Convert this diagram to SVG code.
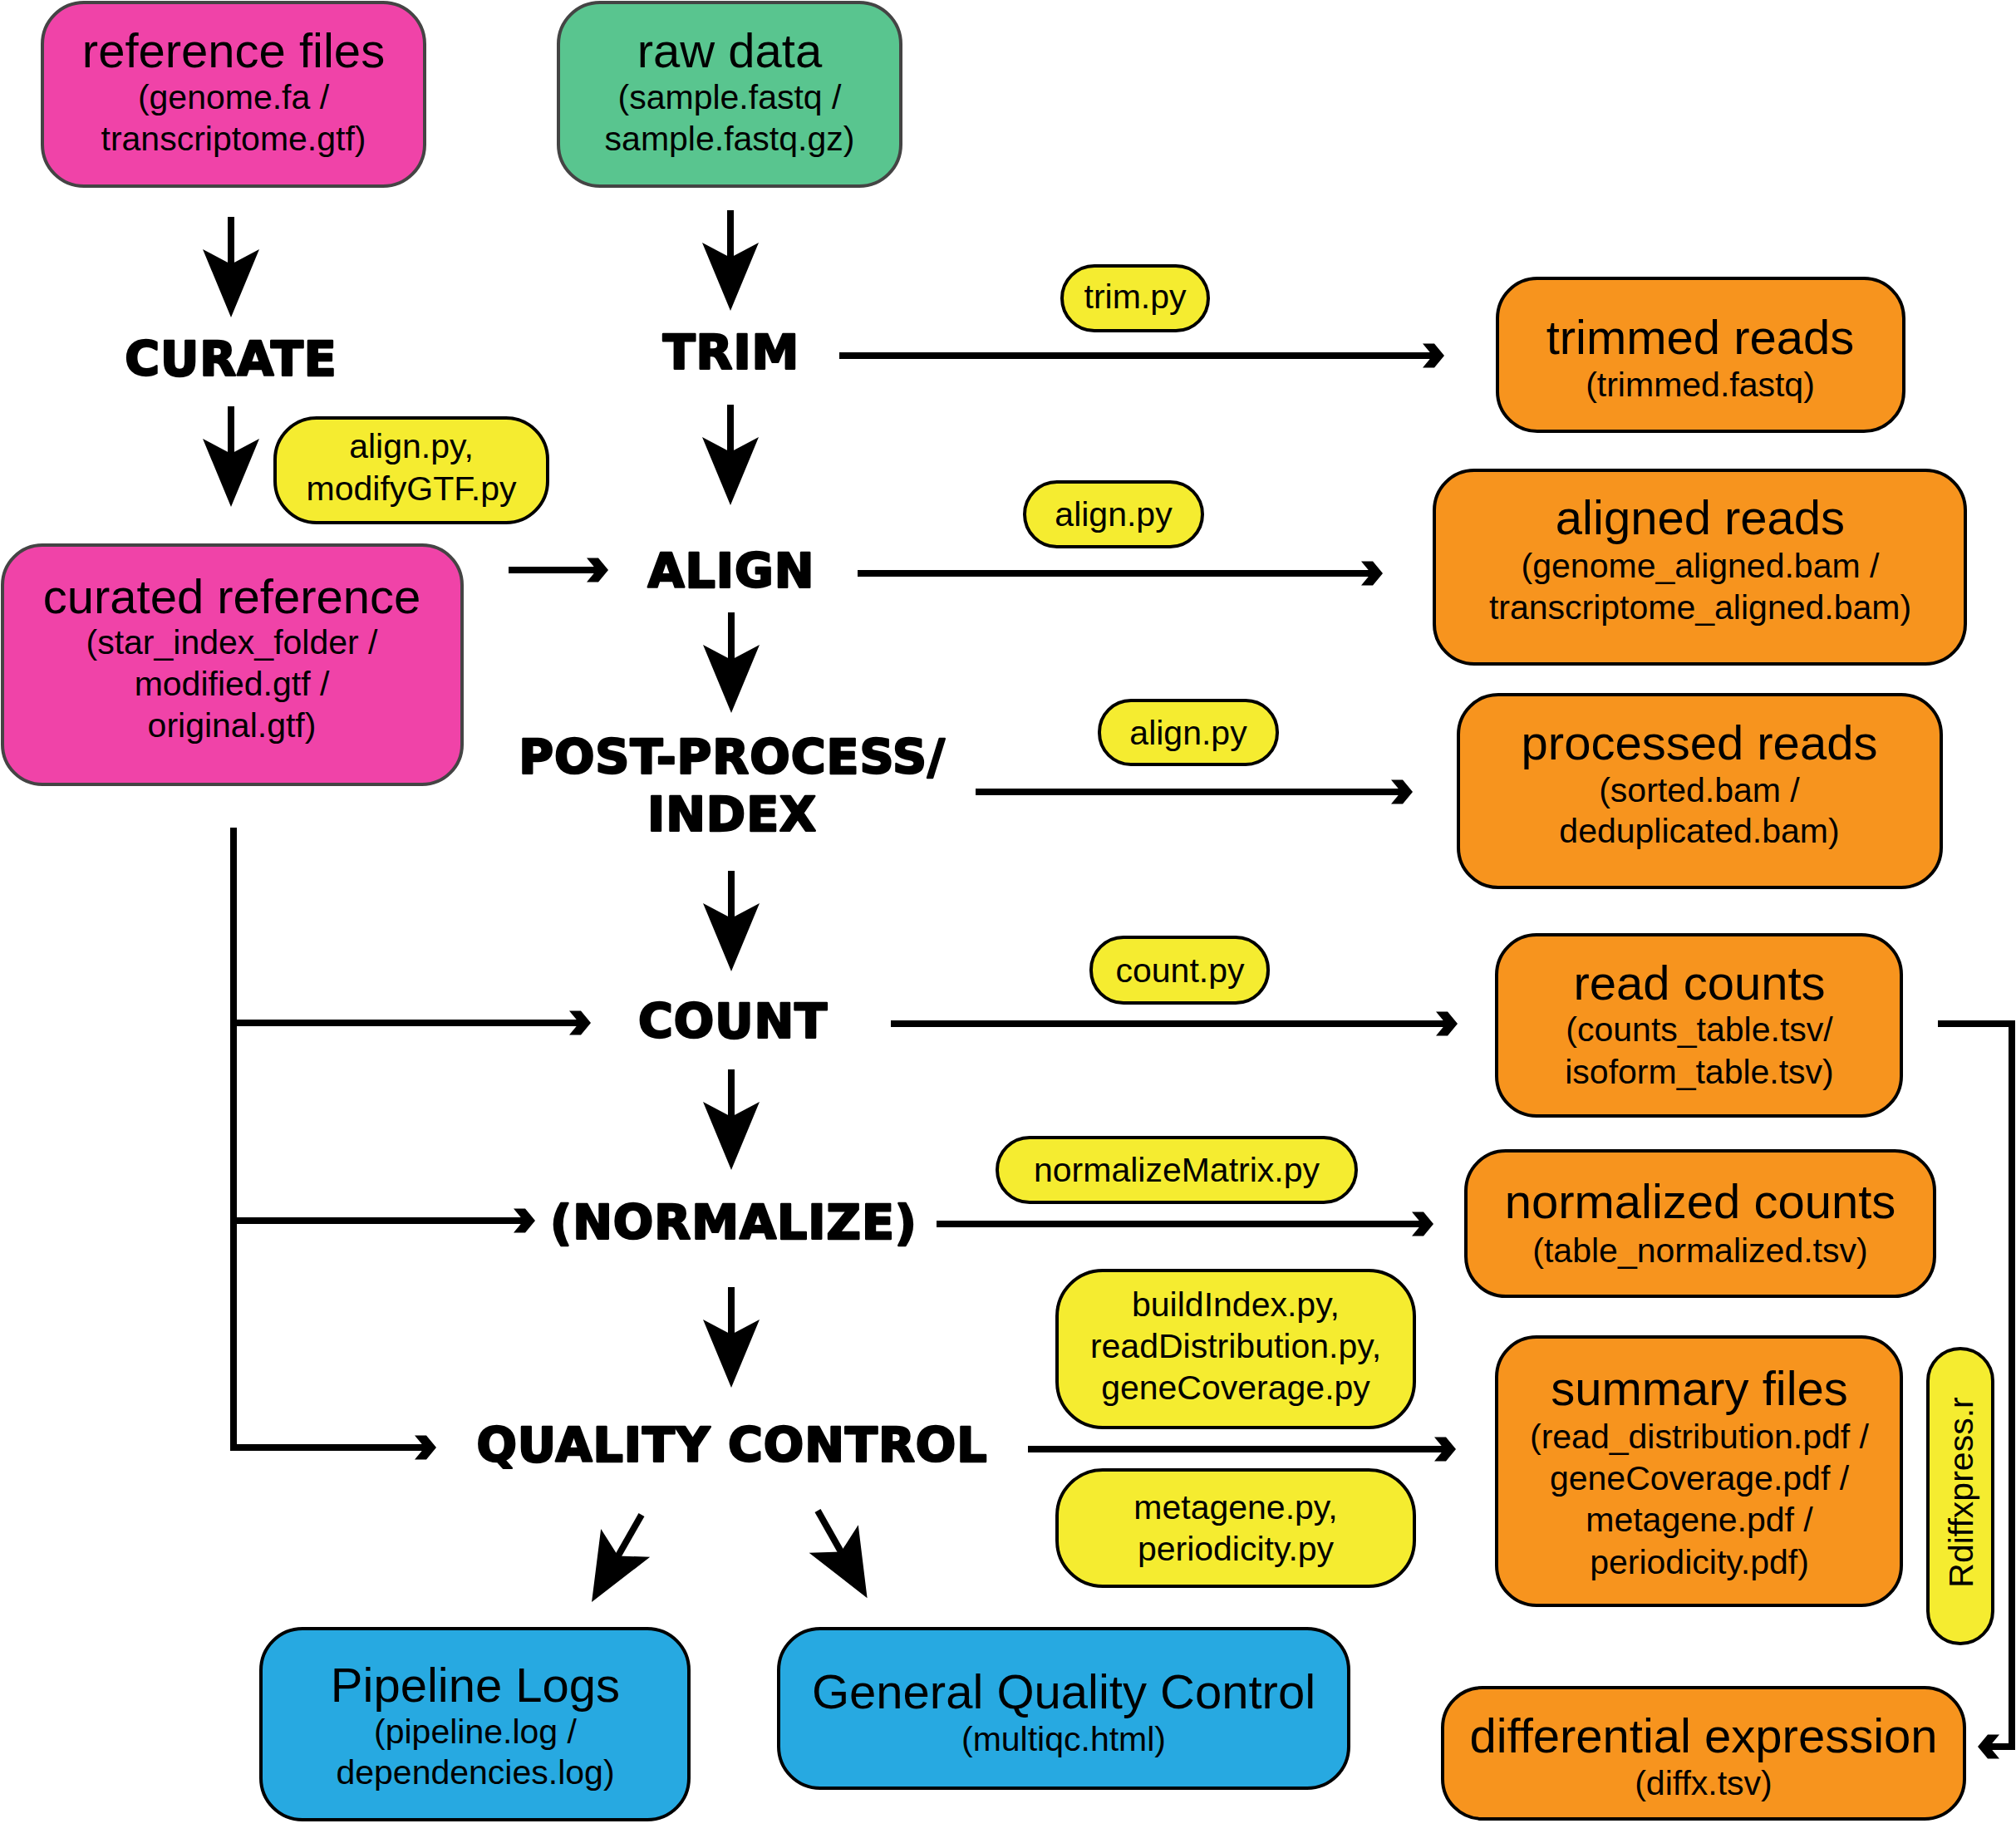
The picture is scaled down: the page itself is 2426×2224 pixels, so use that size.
<svg xmlns="http://www.w3.org/2000/svg" xmlns:xlink="http://www.w3.org/1999/xlink" width="2426" height="2224" viewBox="0 0 2426 2224">
<style>
text{font-family:"Liberation Sans",Arial,"Noto Sans",sans-serif;fill:#000;text-anchor:middle}
.t{font-size:58px}
.s{font-size:41px}
.step{font-family:"DejaVu Sans","Liberation Sans",sans-serif;font-weight:bold;font-size:57px;letter-spacing:1px;stroke:#000;stroke-width:2.5px;stroke-linejoin:round}
.pink{fill:#F043A8;stroke:#444;stroke-width:4}
.green{fill:#59C58F;stroke:#444;stroke-width:4}
.orange{fill:#F7941E;stroke:#000;stroke-width:4}
.blue{fill:#27A9E1;stroke:#000;stroke-width:4}
.yellow{fill:#F5EC30;stroke:#000;stroke-width:4}
.ln{fill:none;stroke:#000;stroke-width:8}
</style>
<defs>
<g id="darr"><rect x="-4" y="0" width="8" height="60" fill="#000"/><polygon points="-34,39 0,57 34,39 0,121" fill="#000"/></g>
<polygon id="chev" points="-26,-14.5 -12,-14.5 0,0 -12,14.5 -26,14.5 -14,0" fill="#000"/>
</defs>
<rect width="2426" height="2224" fill="#fff"/>

<g id="connectors">
<use xlink:href="#darr" href="#darr" transform="translate(278,261)"/>
<use xlink:href="#darr" href="#darr" transform="translate(278,489)"/>
<use xlink:href="#darr" href="#darr" transform="translate(879,253)"/>
<use xlink:href="#darr" href="#darr" transform="translate(879,487)"/>
<use xlink:href="#darr" href="#darr" transform="translate(880,737)"/>
<use xlink:href="#darr" href="#darr" transform="translate(880,1048)"/>
<use xlink:href="#darr" href="#darr" transform="translate(880,1287)"/>
<use xlink:href="#darr" href="#darr" transform="translate(880,1549)"/>
<use xlink:href="#darr" href="#darr" transform="translate(772,1823) rotate(29.7)"/>
<use xlink:href="#darr" href="#darr" transform="translate(984,1818) rotate(-29.5)"/>

<path class="ln" d="M1010,428 H1724"/><use xlink:href="#chev" href="#chev" transform="translate(1738,428)"/>
<path class="ln" d="M612,686 H718"/><use xlink:href="#chev" href="#chev" transform="translate(732,686)"/>
<path class="ln" d="M1032,690 H1650"/><use xlink:href="#chev" href="#chev" transform="translate(1664,690)"/>
<path class="ln" d="M1174,953 H1686"/><use xlink:href="#chev" href="#chev" transform="translate(1700,953)"/>
<path class="ln" d="M1072,1232 H1740"/><use xlink:href="#chev" href="#chev" transform="translate(1754,1232)"/>
<path class="ln" d="M1127,1473 H1711"/><use xlink:href="#chev" href="#chev" transform="translate(1725,1473)"/>
<path class="ln" d="M1237,1744 H1738"/><use xlink:href="#chev" href="#chev" transform="translate(1752,1744)"/>

<path class="ln" d="M281,996 V1742 H511"/><use xlink:href="#chev" href="#chev" transform="translate(525,1742)"/>
<path class="ln" d="M281,1231 H697"/><use xlink:href="#chev" href="#chev" transform="translate(711,1231)"/>
<path class="ln" d="M281,1469 H630"/><use xlink:href="#chev" href="#chev" transform="translate(644,1469)"/>

<path class="ln" d="M2332,1232 H2421 V2102 H2394"/><use xlink:href="#chev" href="#chev" transform="translate(2380,2102) scale(-1,1)"/>
</g>

<g id="ref_files">
<rect class="pink" x="51" y="3" width="460" height="221" rx="50"/>
<text class="t" x="281" y="81">reference files</text>
<text class="s" x="281" y="131">(genome.fa /</text>
<text class="s" x="281" y="181">transcriptome.gtf)</text>
</g>
<g id="raw_data">
<rect class="green" x="672" y="3" width="412" height="221" rx="50"/>
<text class="t" x="878" y="81">raw data</text>
<text class="s" x="878" y="131">(sample.fastq /</text>
<text class="s" x="878" y="181">sample.fastq.gz)</text>
</g>
<g id="curated_ref">
<rect class="pink" x="3" y="656" width="553" height="288" rx="48"/>
<text class="t" x="279" y="738">curated reference</text>
<text class="s" x="279" y="787">(star_index_folder /</text>
<text class="s" x="279" y="837">modified.gtf /</text>
<text class="s" x="279" y="887">original.gtf)</text>
</g>

<g id="step_curate"><text class="step" x="278" y="452">CURATE</text></g>
<g id="step_trim"><text class="step" x="880" y="444">TRIM</text></g>
<g id="step_align"><text class="step" x="880" y="707">ALIGN</text></g>
<g id="step_post"><text class="step" x="881" y="931">POST-PROCESS/</text><text class="step" x="881" y="1000">INDEX</text></g>
<g id="step_count"><text class="step" x="882" y="1249">COUNT</text></g>
<g id="step_normalize"><text class="step" x="883" y="1491">(NORMALIZE)</text></g>
<g id="step_qc"><text class="step" x="881" y="1759">QUALITY CONTROL</text></g>

<g id="pill_modify">
<rect class="yellow" x="331" y="503" width="328" height="126" rx="50"/>
<text class="s" x="495" y="551">align.py,</text>
<text class="s" x="495" y="602">modifyGTF.py</text>
</g>
<g id="pill_trim">
<rect class="yellow" x="1278" y="320" width="176" height="78" rx="39"/>
<text class="s" x="1366" y="371">trim.py</text>
</g>
<g id="pill_align1">
<rect class="yellow" x="1233" y="580" width="214" height="78" rx="39"/>
<text class="s" x="1340" y="633">align.py</text>
</g>
<g id="pill_align2">
<rect class="yellow" x="1323" y="843" width="214" height="77" rx="38"/>
<text class="s" x="1430" y="896">align.py</text>
</g>
<g id="pill_count">
<rect class="yellow" x="1313" y="1128" width="213" height="79" rx="39"/>
<text class="s" x="1420" y="1182">count.py</text>
</g>
<g id="pill_normalize">
<rect class="yellow" x="1200" y="1369" width="432" height="78" rx="39"/>
<text class="s" x="1416" y="1422">normalizeMatrix.py</text>
</g>
<g id="pill_qc1">
<rect class="yellow" x="1272" y="1529" width="430" height="189" rx="55"/>
<text class="s" x="1487" y="1584">buildIndex.py,</text>
<text class="s" x="1487" y="1634">readDistribution.py,</text>
<text class="s" x="1487" y="1684">geneCoverage.py</text>
</g>
<g id="pill_qc2">
<rect class="yellow" x="1272" y="1769" width="430" height="140" rx="55"/>
<text class="s" x="1487" y="1828">metagene.py,</text>
<text class="s" x="1487" y="1878">periodicity.py</text>
</g>
<g id="pill_rdiff">
<rect class="yellow" x="2320" y="1623" width="78" height="355" rx="39"/>
<text class="s" transform="translate(2374,1796) rotate(-90)">Rdiffxpress.r</text>
</g>

<g id="trimmed_reads">
<rect class="orange" x="1802" y="335" width="489" height="184" rx="48"/>
<text class="t" x="2046" y="426">trimmed reads</text>
<text class="s" x="2046" y="477">(trimmed.fastq)</text>
</g>
<g id="aligned_reads">
<rect class="orange" x="1726" y="566" width="639" height="233" rx="48"/>
<text class="t" x="2046" y="643">aligned reads</text>
<text class="s" x="2046" y="695">(genome_aligned.bam /</text>
<text class="s" x="2046" y="745">transcriptome_aligned.bam)</text>
</g>
<g id="processed_reads">
<rect class="orange" x="1755" y="836" width="581" height="232" rx="48"/>
<text class="t" x="2045" y="914">processed reads</text>
<text class="s" x="2045" y="965">(sorted.bam /</text>
<text class="s" x="2045" y="1014">deduplicated.bam)</text>
</g>
<g id="read_counts">
<rect class="orange" x="1801" y="1125" width="487" height="218" rx="48"/>
<text class="t" x="2045" y="1203">read counts</text>
<text class="s" x="2045" y="1253">(counts_table.tsv/</text>
<text class="s" x="2045" y="1304">isoform_table.tsv)</text>
</g>
<g id="normalized_counts">
<rect class="orange" x="1764" y="1385" width="564" height="175" rx="48"/>
<text class="t" x="2046" y="1466">normalized counts</text>
<text class="s" x="2046" y="1519">(table_normalized.tsv)</text>
</g>
<g id="summary_files">
<rect class="orange" x="1801" y="1609" width="487" height="323" rx="48"/>
<text class="t" x="2045" y="1691">summary files</text>
<text class="s" x="2045" y="1743">(read_distribution.pdf /</text>
<text class="s" x="2045" y="1793">geneCoverage.pdf /</text>
<text class="s" x="2045" y="1843">metagene.pdf /</text>
<text class="s" x="2045" y="1894">periodicity.pdf)</text>
</g>
<g id="diff_expression">
<rect class="orange" x="1736" y="2031" width="628" height="158" rx="48"/>
<text class="t" x="2050" y="2109">differential expression</text>
<text class="s" x="2050" y="2160">(diffx.tsv)</text>
</g>
<g id="pipeline_logs">
<rect class="blue" x="314" y="1960" width="515" height="230" rx="50"/>
<text class="t" x="572" y="2048">Pipeline Logs</text>
<text class="s" x="572" y="2098">(pipeline.log /</text>
<text class="s" x="572" y="2147">dependencies.log)</text>
</g>
<g id="general_qc">
<rect class="blue" x="937" y="1960" width="686" height="192" rx="50"/>
<text class="t" x="1280" y="2056">General Quality Control</text>
<text class="s" x="1280" y="2107">(multiqc.html)</text>
</g>
</svg>
